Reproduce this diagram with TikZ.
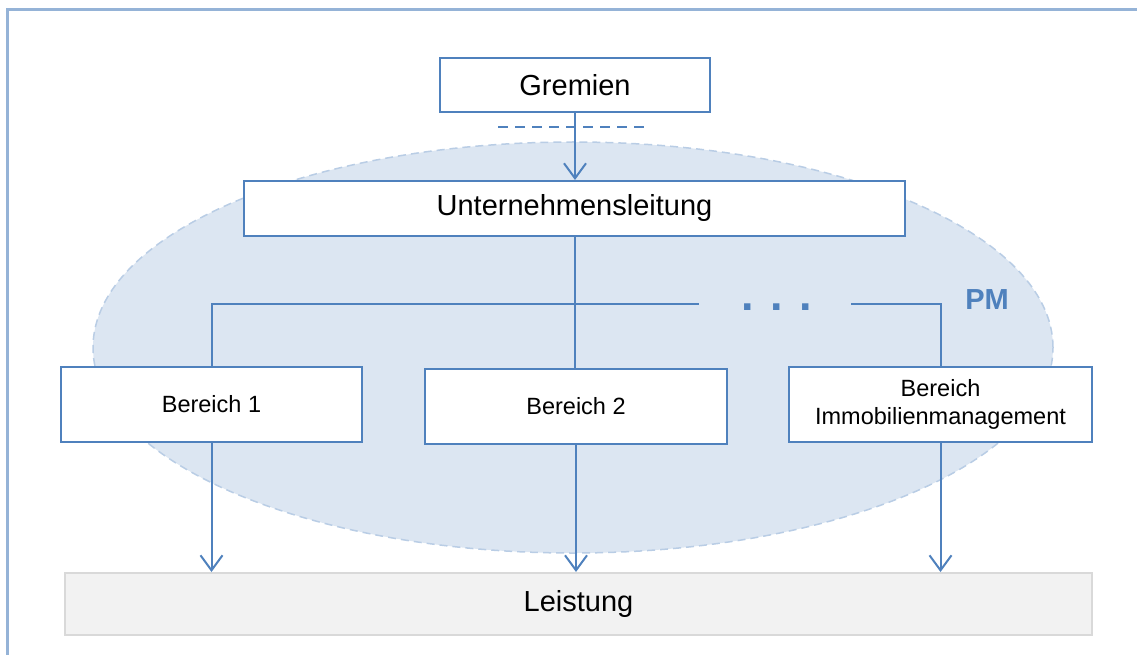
\documentclass[tikz,border=0pt]{standalone}
\usepackage{fontspec}
\setmainfont{Liberation Sans}
\usetikzlibrary{arrows.meta}
\definecolor{lineblue}{HTML}{4F81BD}
\definecolor{frameblue}{HTML}{95B3D7}
\definecolor{pmfill}{HTML}{DCE6F2}
\definecolor{pmline}{HTML}{B9CDE5}
\definecolor{lgray}{HTML}{F2F2F2}
\definecolor{mgray}{HTML}{D9D9D9}
\tikzset{box/.style={rectangle,draw=lineblue,line width=2pt,fill=white,inner sep=0pt}}
\tikzset{big/.style={font=\fontsize{29}{34}\selectfont}}
\tikzset{small/.style={font=\fontsize{23.5}{28}\selectfont}}
\tikzset{ln/.style={lineblue,line width=2pt}}
\tikzset{arr/.style={ln,-{Straight Barb[length=15pt,width=22pt]}}}

\begin{document}
\begin{tikzpicture}[x=1pt,y=-1pt]
  \useasboundingbox (0,0) rectangle (1137,655);
  \draw[frameblue,line width=3pt] (7,655) -- (7,10) -- (1137,10);
  % PM area
  \draw[fill=pmfill,draw=pmline,line width=1.5pt,dash pattern=on 8pt off 5pt]
    (573,347.5) ellipse [x radius=480pt,y radius=205.5pt];
  \node[text=lineblue,font=\bfseries\fontsize{29}{34}\selectfont] (pm) at (987,300) {PM};
  % boxes
  \node[box,big,minimum width=270pt,minimum height=54pt] (gremien) at (575,85) {Gremien};
  \node[box,big,minimum width=661pt,minimum height=55pt] (ul) at (574.5,208.5) {Unternehmensleitung};
  \node[box,small,minimum width=301pt,minimum height=75pt] (b1) at (211.5,404.5) {Bereich 1};
  \node[box,small,minimum width=302pt,minimum height=75pt] (b2) at (576,406.5) {Bereich 2};
  \node[box,small,align=center,minimum width=303pt,minimum height=75pt] (b3) at (940.5,404.5) {Bereich\\Immobilienmanagement};
  \node[rectangle,draw=mgray,fill=lgray,line width=2pt,big,minimum width=1027pt,minimum height=62pt] (leist) at (578.5,604) {Leistung};
  \node[text=lineblue,inner sep=0pt,font=\bfseries\fontsize{45}{45}\selectfont] (dots) at (777,307) {. . .};
  % connectors
  \coordinate (dl) at (498,127);
  \coordinate (dr) at (646,127);
  \coordinate (busl) at (699,304);
  \coordinate (busr) at (851,304);
  \draw[ln,dash pattern=on 10pt off 7pt] (dl) -- (dr);
  \draw[arr] (gremien.south) -- (gremien.south |- ul.north);
  \draw[ln] (ul.south) -- (ul.south |- b2.north);
  \draw[ln] (b1.north) |- (busl);
  \draw[ln] (busr) -| (b3.north);
  \draw[arr] (b1.south) -- (b1.south |- leist.north);
  \draw[arr] (b2.south) -- (b2.south |- leist.north);
  \draw[arr] (b3.south) -- (b3.south |- leist.north);
\end{tikzpicture}
\end{document}
